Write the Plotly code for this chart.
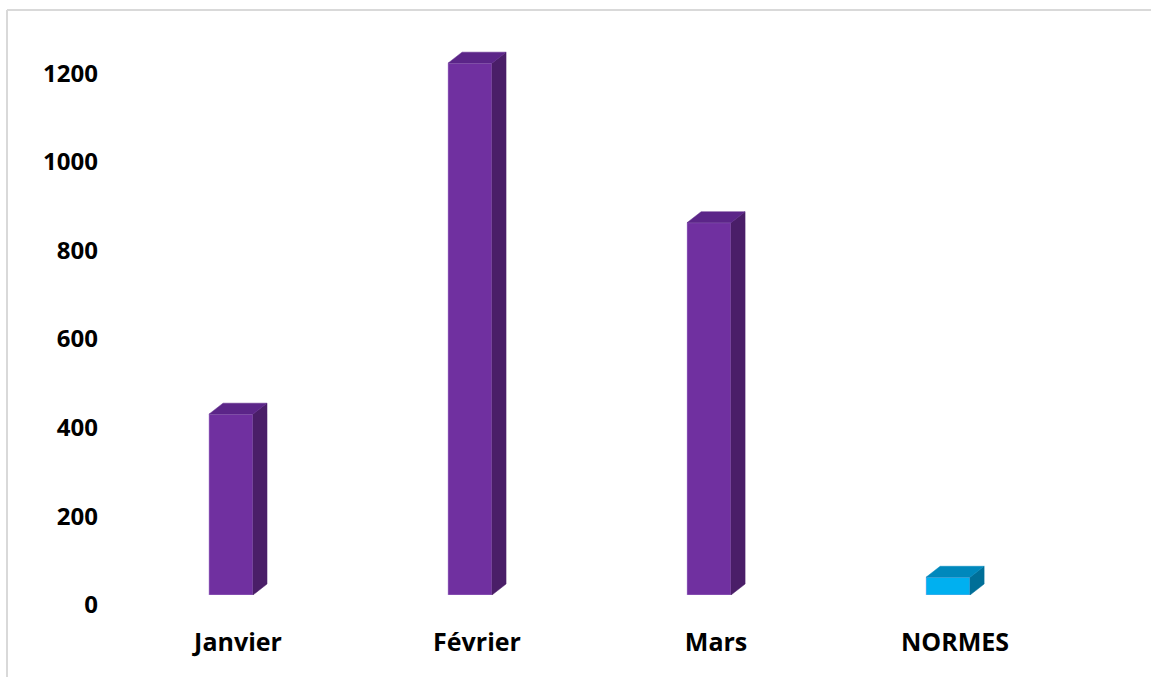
import plotly.graph_objects as go

# ---- data ----
categories = ["Janvier", "Février", "Mars", "NORMES"]
values = [408, 1200, 840, 40]
bar_colors = ["#7030A0", "#7030A0", "#7030A0", "#00B0F0"]
top_colors = ["#5B2588", "#5B2588", "#5B2588", "#0088BC"]
side_colors = ["#4A1E68", "#4A1E68", "#4A1E68", "#006F98"]
y_ticks = [0, 200, 400, 600, 800, 1000, 1200]

# ---- 3D look parameters (data units) ----
W = 0.184      # front face width
DX = 0.059     # depth offset along x
DY = 24.8      # depth offset along y

xs = list(range(len(categories)))

fig = go.Figure()

fig.add_trace(go.Bar(
    x=xs, y=values, width=W,
    marker=dict(color=bar_colors, line=dict(width=0.8, color="rgba(200,170,230,0.6)")),
    hoverinfo="skip", showlegend=False,
))

for i, v in enumerate(values):
    xl, xr = i - W / 2, i + W / 2
    # side face
    fig.add_trace(go.Scatter(
        x=[xr, xr + DX, xr + DX, xr, xr],
        y=[0, DY, v + DY, v, 0],
        fill="toself", fillcolor=side_colors[i], mode="lines",
        line=dict(width=0.5, color=side_colors[i]),
        hoverinfo="skip", showlegend=False,
    ))
    # top face
    fig.add_trace(go.Scatter(
        x=[xl, xr, xr + DX, xl + DX, xl],
        y=[v, v, v + DY, v + DY, v],
        fill="toself", fillcolor=top_colors[i], mode="lines",
        line=dict(width=0.5, color=top_colors[i]),
        hoverinfo="skip", showlegend=False,
    ))

L, R, T, B = 99, 61, 41, 82
plot_w = 1151 - L - R
plot_h = 677 - T - B

fig.update_layout(
    width=1151, height=677,
    margin=dict(l=L, r=R, t=T, b=B),
    paper_bgcolor="white", plot_bgcolor="white",
    font=dict(family="Open Sans", color="#000000"),
    xaxis=dict(
        range=[-0.552, 3.594],
        tickvals=[x + DX / 2 for x in xs], ticktext=categories,
        tickfont=dict(size=25, weight="bold", family="Open Sans"),
        showgrid=False, zeroline=False, showline=False, ticks="",
        ticklabelstandoff=30,
    ),
    yaxis=dict(
        range=[0, 1250],
        tickvals=y_ticks, ticktext=[str(t) for t in y_ticks],
        tickfont=dict(size=24, weight="bold", family="Open Sans"),
        showgrid=False, zeroline=False, showline=False, ticks="",
        ticklabelshift=10,
    ),
    shapes=[
        dict(type="line", xref="paper", yref="paper",
             x0=(7 - L) / plot_w, x1=(1151 - L) / plot_w + 0.01,
             y0=(677 - B - 10) / plot_h, y1=(677 - B - 10) / plot_h,
             line=dict(color="#D9D9D9", width=2)),
        dict(type="line", xref="paper", yref="paper",
             x0=(7 - L) / plot_w, x1=(7 - L) / plot_w,
             y0=(677 - B - 10) / plot_h, y1=-(B + 5) / plot_h,
             line=dict(color="#D9D9D9", width=2)),
    ],
)

fig.write_html("out.html")
